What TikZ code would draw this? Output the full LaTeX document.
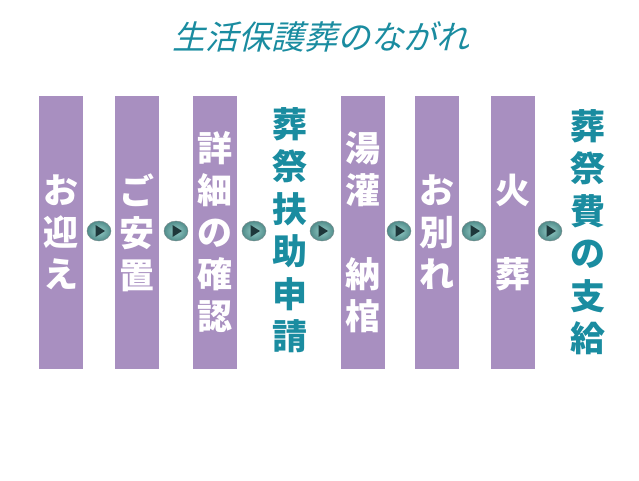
\documentclass[tikz,border=0pt]{standalone}
\usepackage{fontspec}
\newfontfamily\cjk{Noto Sans CJK JP}
\newfontfamily\cjkslant{Noto Sans CJK JP}[FakeSlant=0.25]
\definecolor{barpurple}{RGB}{168,143,192}
\definecolor{textteal}{RGB}{26,140,160}
\definecolor{btnlight}{RGB}{150,205,200}
\definecolor{btnteal}{RGB}{80,140,138}
\definecolor{btndark}{RGB}{30,55,58}

\begin{document}
\begin{tikzpicture}[x=1pt,y=-1pt]
\useasboundingbox (0,0) rectangle (639,480);

\node (T) at (321,37) {\cjkslant\fontsize{33}{33}\selectfont\color{textteal}生活保護葬のながれ};

\begin{scope}[every node/.style={fill=barpurple,text=white,minimum width=44pt,minimum height=273pt,inner sep=0pt,align=center,font=\cjk\bfseries\fontsize{35}{42}\selectfont}]
  \node (A) at (61,232.5) {お\\迎\\え};
  \node (B) at (137,232.5) {ご\\安\\置};
  \node (C) at (215,232.5) {詳\\細\\の\\確\\認};
  \node (E) at (363,232.5) {湯\\灌\\　\\納\\棺};
  \node (F) at (436.5,232.5) {お\\別\\れ};
  \node (G) at (513,232.5) {火\\　\\葬};
\end{scope}

\begin{scope}[every node/.style={text=textteal,inner sep=0pt,align=center,font=\cjk\bfseries\fontsize{35}{42.5}\selectfont}]
  \node (D) at (290,230) {葬\\祭\\扶\\助\\申\\請};
  \node (H) at (587.5,232) {葬\\祭\\費\\の\\支\\給};
\end{scope}

\foreach \x in {99,176,254,322,399,474,550} {
  \shade[inner color=btnlight,outer color=btnteal] (\x,231) ellipse [x radius=12, y radius=10];
  \draw[btndark!60] (\x,231) ellipse [x radius=12, y radius=10];
  \fill[btndark] (\x-3.5,231-6) -- (\x+6,231) -- (\x-3.5,231+6) -- cycle;
}
\end{tikzpicture}
\end{document}
